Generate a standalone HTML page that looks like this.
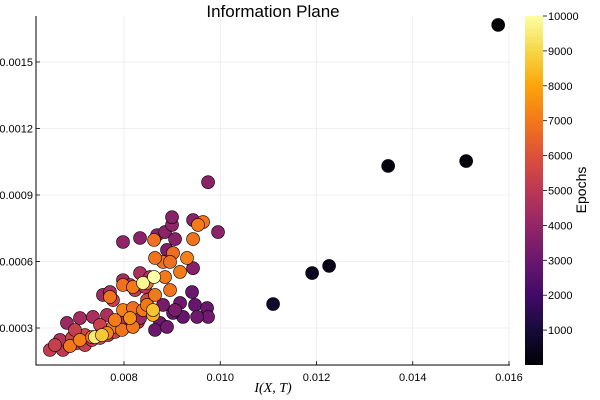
<!DOCTYPE html>
<html><head><meta charset="utf-8"><style>
body{margin:0;background:#fff}
svg{display:block;font-family:"Liberation Sans",sans-serif}
</style></head><body>
<svg id="chart" width="600" height="400" viewBox="0 0 600 400">
<defs><linearGradient id="inf" x1="0" y1="1" x2="0" y2="0">
<stop offset="0" stop-color="#000004"/><stop offset="0.1" stop-color="#160b39"/><stop offset="0.2" stop-color="#420a68"/><stop offset="0.3" stop-color="#6a176e"/><stop offset="0.4" stop-color="#932667"/><stop offset="0.5" stop-color="#bc3754"/><stop offset="0.6" stop-color="#dd513a"/><stop offset="0.7" stop-color="#f37819"/><stop offset="0.8" stop-color="#fca50a"/><stop offset="0.9" stop-color="#f6d746"/><stop offset="1" stop-color="#fcffa4"/>
</linearGradient></defs>
<g id="grid"></g>
<g id="marks"></g>
<g id="axes"></g>
<text x="273" y="17" font-size="17" text-anchor="middle">Information Plane</text>
<text x="273" y="392" font-size="14" font-style="italic" font-family="Liberation Serif,serif" text-anchor="middle">I(X, T)</text>
<rect x="525" y="16" width="18" height="349" fill="url(#inf)"/>
<g id="cbticks"></g>
<text font-size="14" text-anchor="middle" transform="translate(586,190) rotate(-90)">Epochs</text>
</svg>
<script>
const xTicks=[0.008,0.010,0.012,0.014,0.016];
const xTickLabels=["0.008","0.010","0.012","0.014","0.016"];
const yTicks=[0.0003,0.0006,0.0009,0.0012,0.0015];
const yTickLabels=["0.0003","0.0006","0.0009","0.0012","0.0015"];
const cTicks=[1000,2000,3000,4000,5000,6000,7000,8000,9000,10000];
const xs=[
0.006461,0.006606,0.006731,0.006877,0.007022,0.007189,0.007334,0.007501,0.007667,0.007813,0.007958,0.008125,0.008291,0.006669,0.006918,0.007189,0.006814,0.007085,0.007355,0.007646,0.008333,0.007917,0.007501,0.006981,0.006565,
0.009414,0.009165,0.009476,0.009726,0.009747,0.009518,0.009227,0.009019,0.008749,0.008645,0.008894,0.008541,0.008811,0.009061,
0.007979,0.008333,0.008686,0.008853,0.008998,0.008998,0.009061,0.008624,0.009435,0.009954,0.009747,0.008894,0.009435,
0.007563,0.007709,0.007979,0.008125,0.008333,0.008541,0.007771,0.008478,0.008229,0.008437,
0.006877,0.007085,0.007334,0.007771,0.007646,0.007958,0.008187,0.007979,0.008187,0.008395,0.007813,0.008125,
0.007709,0.007979,0.008187,0.008478,0.008853,0.009019,0.008811,0.008478,0.008645,0.008957,0.009310,0.009165,0.008957,0.008645,0.009643,0.009539,0.009435,0.008603,
0.007397,0.007542,0.008603,0.008395,0.008624,
0.015775,0.01511,0.013489,0.012262,0.011909,0.011098];
const ys=[
0.000201,0.000223,0.000201,0.000219,0.000232,0.000223,0.000246,0.000255,0.000268,0.000282,0.0003,0.000309,0.000327,0.000246,0.000255,0.000268,0.000323,0.000345,0.00035,0.000359,0.000345,0.000336,0.000314,0.000291,0.000223,
0.000462,0.000413,0.000404,0.00039,0.00035,0.00035,0.00035,0.000368,0.000323,0.000291,0.000305,0.000381,0.000404,0.000381,
0.000688,0.000706,0.000719,0.000733,0.000765,0.0008,0.000701,0.000697,0.000787,0.000733,0.000958,0.000652,0.00057,
0.000449,0.000462,0.000516,0.000494,0.000548,0.00053,0.000426,0.000426,0.000471,0.000485,
0.000219,0.000246,0.000259,0.000305,0.000277,0.000291,0.000305,0.000381,0.00039,0.000381,0.000336,0.000345,
0.000440,0.000494,0.000485,0.000503,0.00053,0.000638,0.000598,0.000404,0.000616,0.000598,0.000616,0.000553,0.000471,0.000449,0.000778,0.000765,0.000701,0.000359,
0.000259,0.000268,0.000381,0.000503,0.00053,
0.001667,0.001053,0.001031,0.00058,0.000548,0.000408];
const epochs=[
5200,5300,5100,5400,5200,5300,5000,5500,5200,5400,5100,5300,5000,4800,5500,5600,4200,4400,4500,4600,4300,4700,5400,5300,5300,
3000,3100,2900,3000,3200,3100,2900,3000,3100,3000,3200,2900,3300,3400,
3900,3800,3700,3800,3900,3700,3700,6800,3800,3800,3800,3500,3700,
4300,4500,4400,4600,4500,4700,5400,5600,5200,4900,
7000,7200,6800,7100,7300,6900,7000,7200,6800,7000,7100,7500,
6900,6800,7000,6800,7000,6700,6800,7000,6900,6800,7200,7100,6900,7000,6900,7100,6900,8200,
9500,8700,8600,9800,10000,
0,100,200,400,500,800];
const X0=124,X1=509,XV0=0.008,XV1=0.016, Y0=328,Y1=62,YV0=0.0003,YV1=0.0015;
const L=36,R=510,T=16,B=365;
function sx(v){return X0+(v-XV0)/(XV1-XV0)*(X1-X0);}
function sy(v){return Y0+(v-YV0)/(YV1-YV0)*(Y1-Y0);}
function sc(v){return 365-v/10000*349;}
const stops=["#000004","#160b39","#420a68","#6a176e","#932667","#bc3754","#dd513a","#f37819","#fca50a","#f6d746","#fcffa4"];
function hex(h){return [1,3,5].map(i=>parseInt(h.substr(i,2),16));}
function color(e){let t=Math.max(0,Math.min(1,e/10000))*10;let i=Math.min(9,Math.floor(t)),f=t-i;
 const a=hex(stops[i]),b=hex(stops[i+1]);return "rgb("+a.map((c,k)=>Math.round(c+(b[k]-c)*f)).join(",")+")";}
const NS="http://www.w3.org/2000/svg";
function mk(tag,attrs,parent){const e=document.createElementNS(NS,tag);for(const k in attrs)e.setAttribute(k,attrs[k]);parent.appendChild(e);return e;}
const grid=document.getElementById('grid'),axes=document.getElementById('axes'),marks=document.getElementById('marks'),cb=document.getElementById('cbticks');
xTicks.forEach((v,i)=>{const x=sx(v);
 const g=mk('line',{x1:x,x2:x,y1:T,y2:B,stroke:'#000','stroke-opacity':0.1,'stroke-width':0.6},grid);
 
 
 const t=mk('line',{x1:x,x2:x,y1:B,y2:B-4,stroke:'#000','stroke-width':0.8},axes);
 
 
 const l=mk('text',{x:x,y:B+16,'font-size':11,'text-anchor':'middle'},axes);l.textContent=xTickLabels[i];
 
 });
yTicks.forEach((v,i)=>{const y=sy(v);
 const g=mk('line',{x1:L,x2:R,y1:y,y2:y,stroke:'#000','stroke-opacity':0.1,'stroke-width':0.6},grid);
 
 
 const t=mk('line',{x1:L,x2:L+4,y1:y,y2:y,stroke:'#000','stroke-width':0.8},axes);
 
 
 const l=mk('text',{x:L-3,y:y+4,'font-size':11,'text-anchor':'end'},axes);l.textContent=yTickLabels[i];
 
 });
const ax=mk('path',{d:`M${L},${T}V${B}H${R}`,fill:'none',stroke:'#000','stroke-width':1},axes);


xs.forEach((v,i)=>{const c=mk('circle',{cx:sx(v),cy:sy(ys[i]),r:6.5,fill:color(epochs[i]),stroke:'#000','stroke-width':0.6},marks);
 
 });
cTicks.forEach(v=>{const y=sc(v);
 const t=mk('line',{x1:543,x2:547,y1:y,y2:y,stroke:'#000','stroke-width':0.8},cb);
 
 
 const l=mk('text',{x:548,y:y+4,'font-size':11},cb);l.textContent=v;
 
 });
</script>
</body></html>
